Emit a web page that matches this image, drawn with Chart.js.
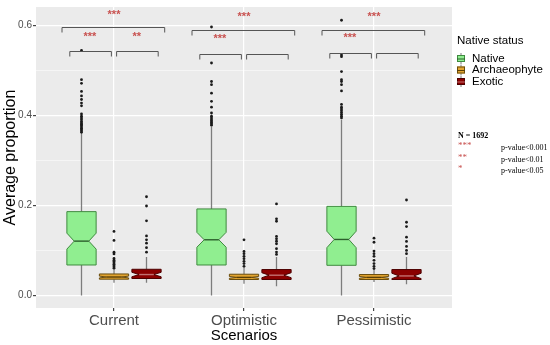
<!DOCTYPE html>
<html>
<head>
<meta charset="utf-8">
<script src="https://cdn.jsdelivr.net/npm/chart.js@4.4.1/dist/chart.umd.min.js"></script>
<style>
  html, body { margin: 0; padding: 0; background: #fff; }
  canvas { display: block; }
</style>
</head>
<body>
<canvas id="boxChart" width="550" height="345"></canvas>
<script>
// ==================== DATOS ====================
const scenarios = ['Current', 'Optimistic', 'Pessimistic'];
const statusNames = ['Native', 'Archaeophyte', 'Exotic'];
const yMajorTicks = [0, 0.2, 0.4, 0.6];
const yMinorTicks = [0.1, 0.3, 0.5];

// Native
const nativeLow = [0, 0, 0];
const nativeQ1 = [0.0675, 0.0675, 0.0668];
const nativeMedian = [0.1205, 0.1235, 0.1242];
const nativeQ3 = [0.186, 0.192, 0.1977];
const nativeHigh = [0.36, 0.375, 0.39];
const nativeNotch = [0.0177, 0.0165, 0.0183];
const nativeOutliers = [
    [0.362, 0.365, 0.368, 0.371, 0.374, 0.377, 0.380, 0.383, 0.386, 0.390, 0.394, 0.398, 0.403, 0.421, 0.427, 0.435, 0.443, 0.453, 0.471, 0.479, 0.544],
    [0.378, 0.381, 0.384, 0.387, 0.390, 0.394, 0.398, 0.405, 0.418, 0.431, 0.449, 0.468, 0.475, 0.516, 0.596],
    [0.394, 0.398, 0.402, 0.406, 0.410, 0.414, 0.418, 0.424, 0.454, 0.468, 0.475, 0.479, 0.497, 0.530, 0.534, 0.611]
];

// Archaeophyte
const archLow = [0.028, 0.026, 0.030];
const archQ1 = [0.036, 0.0353, 0.0353];
const archMedian = [0.0408, 0.040, 0.040];
const archQ3 = [0.0476, 0.047, 0.0463];
const archHigh = [0.057, 0.062, 0.057];
const archNotch = [0.002, 0.002, 0.002];
const archOutliers = [
    [0.060, 0.063, 0.066, 0.069, 0.072, 0.075, 0.078, 0.082, 0.092, 0.096, 0.122, 0.142],
    [0.0646, 0.0706, 0.0757, 0.0816, 0.0867, 0.0926, 0.0977, 0.1235],
    [0.0596, 0.0646, 0.0706, 0.0779, 0.0867, 0.0926, 0.0984, 0.118, 0.127]
];

// Exotic
const exoLow = [0.028, 0.0205, 0.025];
const exoQ1 = [0.0375, 0.0353, 0.0353];
const exoMedian = [0.0463, 0.0448, 0.0432];
const exoQ3 = [0.058, 0.0574, 0.0574];
const exoHigh = [0.085, 0.085, 0.085];
const exoNotch = [0.005, 0.0055, 0.006];
const exoOutliers = [
    [0.096, 0.106, 0.116, 0.1235, 0.132, 0.1655, 0.1985, 0.219],
    [0.091, 0.0962, 0.1037, 0.1147, 0.1205, 0.1257, 0.131, 0.1646, 0.17, 0.203],
    [0.0926, 0.0999, 0.1088, 0.1198, 0.1293, 0.1529, 0.1624, 0.2118]
];

// Significancia (por escenario)
const sigTop = ['***', '***', '***'];      // Native vs Exotic
const sigLeft = ['***', '***', '***'];     // Native vs Archaeophyte
const sigRight = ['**', '', ''];           // Archaeophyte vs Exotic
const bracketTopY = [0.595, 0.590, 0.590];
const bracketInnerY = [0.542, 0.537, 0.539];

// ==================== ESTILOS ====================
const FONT = "'Liberation Sans', Arial, sans-serif";
const SERIF = "'Liberation Serif', 'Times New Roman', serif";
const STAR_COLOR = '#c8514f';

const groupStyles = [
    { fill: '#90EE90', stroke: '#3f8a3f', median: '#2c5e2c' },
    { fill: '#E3A530', stroke: '#6a4c0c', median: '#5a3f05' },
    { fill: '#8B0000', stroke: '#4d0000', median: '#c27070' }
];

const stats = [
    { low: nativeLow, q1: nativeQ1, med: nativeMedian, q3: nativeQ3, high: nativeHigh, notch: nativeNotch, out: nativeOutliers },
    { low: archLow, q1: archQ1, med: archMedian, q3: archQ3, high: archHigh, notch: archNotch, out: archOutliers },
    { low: exoLow, q1: exoQ1, med: exoMedian, q3: exoQ3, high: exoHigh, notch: exoNotch, out: exoOutliers }
];

const DODGE = 0.25;
const BOX_WIDTH = 0.225;

function groupX(scenarioIdx, groupIdx) {
    return scenarioIdx + 1 + (groupIdx - 1) * DODGE;
}

// ==================== PLUGINS ====================
const panelBackground = {
    id: 'panelBackground',
    beforeDraw(chart) {
        const { ctx, chartArea: a } = chart;
        ctx.save();
        ctx.fillStyle = '#EBEBEB';
        ctx.fillRect(a.left, a.top, a.right - a.left, a.bottom - a.top);
        ctx.restore();
    }
};

const boxplots = {
    id: 'boxplots',
    beforeDatasetsDraw(chart) {
        const { ctx } = chart;
        const xs = chart.scales.x, ys = chart.scales.y;
        ctx.save();
        stats.forEach((st, g) => {
            const style = groupStyles[g];
            scenarios.forEach((_, s) => {
                const c = groupX(s, g);
                const xc = xs.getPixelForValue(c);
                const xl = xs.getPixelForValue(c - BOX_WIDTH / 2);
                const xr = xs.getPixelForValue(c + BOX_WIDTH / 2);
                const iw = (xr - xl) / 4;
                const yLow = ys.getPixelForValue(st.low[s]);
                const yHigh = ys.getPixelForValue(st.high[s]);
                const yQ1 = ys.getPixelForValue(st.q1[s]);
                const yQ3 = ys.getPixelForValue(st.q3[s]);
                const yMed = ys.getPixelForValue(st.med[s]);
                const yNu = ys.getPixelForValue(st.med[s] + st.notch[s]);
                const yNl = ys.getPixelForValue(st.med[s] - st.notch[s]);

                // bigotes
                ctx.strokeStyle = '#7d7d7d';
                ctx.lineWidth = 1.3;
                ctx.beginPath();
                ctx.moveTo(xc, yHigh); ctx.lineTo(xc, yQ3);
                ctx.moveTo(xc, yQ1); ctx.lineTo(xc, yLow);
                ctx.stroke();

                // caja con muesca
                ctx.beginPath();
                ctx.moveTo(xl, yQ3);
                ctx.lineTo(xr, yQ3);
                ctx.lineTo(xr, yNu);
                ctx.lineTo(xc + iw, yMed);
                ctx.lineTo(xr, yNl);
                ctx.lineTo(xr, yQ1);
                ctx.lineTo(xl, yQ1);
                ctx.lineTo(xl, yNl);
                ctx.lineTo(xc - iw, yMed);
                ctx.lineTo(xl, yNu);
                ctx.closePath();
                ctx.fillStyle = style.fill;
                ctx.fill();
                ctx.strokeStyle = style.stroke;
                ctx.lineWidth = 1;
                ctx.stroke();

                // mediana
                ctx.strokeStyle = style.median;
                ctx.lineWidth = 1.4;
                ctx.beginPath();
                ctx.moveTo(xc - iw, yMed);
                ctx.lineTo(xc + iw, yMed);
                ctx.stroke();
            });
        });
        ctx.restore();
    }
};

const significance = {
    id: 'significance',
    afterDatasetsDraw(chart) {
        const { ctx } = chart;
        const xs = chart.scales.x, ys = chart.scales.y;
        const tip = 5;

        function bracket(x0, x1, yv) {
            const px0 = xs.getPixelForValue(x0), px1 = xs.getPixelForValue(x1);
            const py = Math.round(ys.getPixelForValue(yv)) + 0.5;
            ctx.beginPath();
            ctx.moveTo(px0, py + tip); ctx.lineTo(px0, py);
            ctx.lineTo(px1, py); ctx.lineTo(px1, py + tip);
            ctx.stroke();
        }
        function stars(text, xv, py) {
            if (!text) return;
            ctx.fillText(text, xs.getPixelForValue(xv), py);
        }

        ctx.save();
        ctx.strokeStyle = '#555';
        ctx.lineWidth = 1;
        ctx.fillStyle = STAR_COLOR;
        ctx.font = `bold 11px ${FONT}`;
        ctx.textAlign = 'center';
        ctx.textBaseline = 'middle';
        scenarios.forEach((_, s) => {
            const c = s + 1;
            bracket(c - 0.40, c + 0.39, bracketTopY[s]);
            bracket(c - 0.34, c - 0.02, bracketInnerY[s]);
            bracket(c + 0.02, c + 0.34, bracketInnerY[s]);
            const topPx = ys.getPixelForValue(bracketTopY[s]);
            const innerPx = ys.getPixelForValue(bracketInnerY[s]);
            stars(sigTop[s], c, topPx - 12.5);
            stars(sigLeft[s], c - 0.185, innerPx - 14.5);
            stars(sigRight[s], c + 0.175, innerPx - 14.5);
        });
        ctx.restore();
    }
};

const sideLegend = {
    id: 'sideLegend',
    afterDraw(chart) {
        const { ctx } = chart;
        ctx.save();
        ctx.fillStyle = '#000';
        ctx.textBaseline = 'middle';
        ctx.textAlign = 'left';
        ctx.font = `11.5px ${FONT}`;
        ctx.fillText('Native status', 457, 41);

        const rows = [58.5, 70, 81.5];
        statusNames.forEach((name, g) => {
            const style = groupStyles[g];
            const y = rows[g];
            const kx = 457, kw = 8;
            ctx.strokeStyle = '#7d7d7d';
            ctx.lineWidth = 1;
            ctx.beginPath();
            ctx.moveTo(kx + kw / 2, y - 5.5); ctx.lineTo(kx + kw / 2, y + 5.5);
            ctx.stroke();
            ctx.fillStyle = style.fill;
            ctx.fillRect(kx, y - 3.5, kw, 7);
            ctx.strokeStyle = style.stroke;
            ctx.strokeRect(kx + 0.5, y - 3, kw - 1, 6);
            ctx.strokeStyle = style.median;
            ctx.beginPath();
            ctx.moveTo(kx, y + 0.5); ctx.lineTo(kx + kw, y + 0.5);
            ctx.stroke();
            ctx.fillStyle = '#000';
            ctx.fillText(name, 472, y);
        });

        // nota de significancia
        ctx.font = `bold 8px ${SERIF}`;
        ctx.fillText('N = 1692', 458, 136);
        const notes = [['***', 'p-value<0.001', 148], ['**', 'p-value<0.01', 159.5], ['*', 'p-value<0.05', 171]];
        notes.forEach(([st, txt, y]) => {
            ctx.font = `9px ${SERIF}`;
            ctx.fillStyle = STAR_COLOR;
            ctx.fillText(st, 458, y - 2);
            ctx.font = `8px ${SERIF}`;
            ctx.fillStyle = '#000';
            ctx.fillText(txt, 501, y);
        });
        ctx.restore();
    }
};

// ==================== GRÁFICO ====================
const datasets = stats.map((st, g) => ({
    type: 'scatter',
    label: statusNames[g],
    data: st.out.flatMap((vals, s) => vals.map(v => ({ x: groupX(s, g), y: v }))),
    pointRadius: 1.4,
    pointHoverRadius: 1.4,
    backgroundColor: '#1a1a1a',
    borderWidth: 0
}));

const ctx = document.getElementById('boxChart').getContext('2d');
new Chart(ctx, {
    type: 'scatter',
    data: { datasets },
    options: {
        responsive: false,
        animation: false,
        layout: { padding: { top: 5, right: 98, bottom: 0, left: 0 } },
        plugins: {
            legend: { display: false },
            tooltip: { enabled: false }
        },
        scales: {
            x: {
                type: 'linear',
                min: 0.4,
                max: 3.6,
                afterBuildTicks(scale) {
                    scale.ticks = scenarios.map((_, i) => ({ value: i + 1 }));
                },
                afterFit(scale) {
                    scale.height = 37;
                },
                ticks: {
                    callback: v => scenarios[v - 1] || '',
                    font: { family: FONT, size: 15 },
                    color: '#4d4d4d',
                    padding: 1,
                    autoSkip: false,
                    maxRotation: 0
                },
                grid: {
                    color: '#ffffff',
                    lineWidth: 1.2,
                    tickColor: '#444',
                    tickLength: 3
                },
                border: { display: false },
                title: {
                    display: true,
                    text: 'Scenarios',
                    font: { family: FONT, size: 15 },
                    color: '#000',
                    padding: { top: 0, bottom: 0 }
                }
            },
            y: {
                type: 'linear',
                min: -0.028,
                max: 0.6404,
                afterBuildTicks(scale) {
                    scale.ticks = [...yMajorTicks, ...yMinorTicks].sort((a, b) => a - b).map(v => ({ value: v }));
                },
                afterFit(scale) {
                    scale.width = 36;
                },
                ticks: {
                    callback: v => yMajorTicks.includes(v) ? v.toFixed(1) : '',
                    font: { family: FONT, size: 10 },
                    color: '#4d4d4d',
                    padding: 1
                },
                grid: {
                    color: '#ffffff',
                    lineWidth: c => yMajorTicks.includes(c.tick && c.tick.value) ? 1.2 : 0.5,
                    tickColor: c => yMajorTicks.includes(c.tick && c.tick.value) ? '#444' : 'rgba(0,0,0,0)',
                    tickLength: 3
                },
                border: { display: false },
                title: {
                    display: true,
                    text: 'Average proportion',
                    font: { family: FONT, size: 16 },
                    color: '#000',
                    padding: { top: 1, bottom: 0 }
                }
            }
        }
    },
    plugins: [panelBackground, boxplots, significance, sideLegend]
});
</script>
</body>
</html>
